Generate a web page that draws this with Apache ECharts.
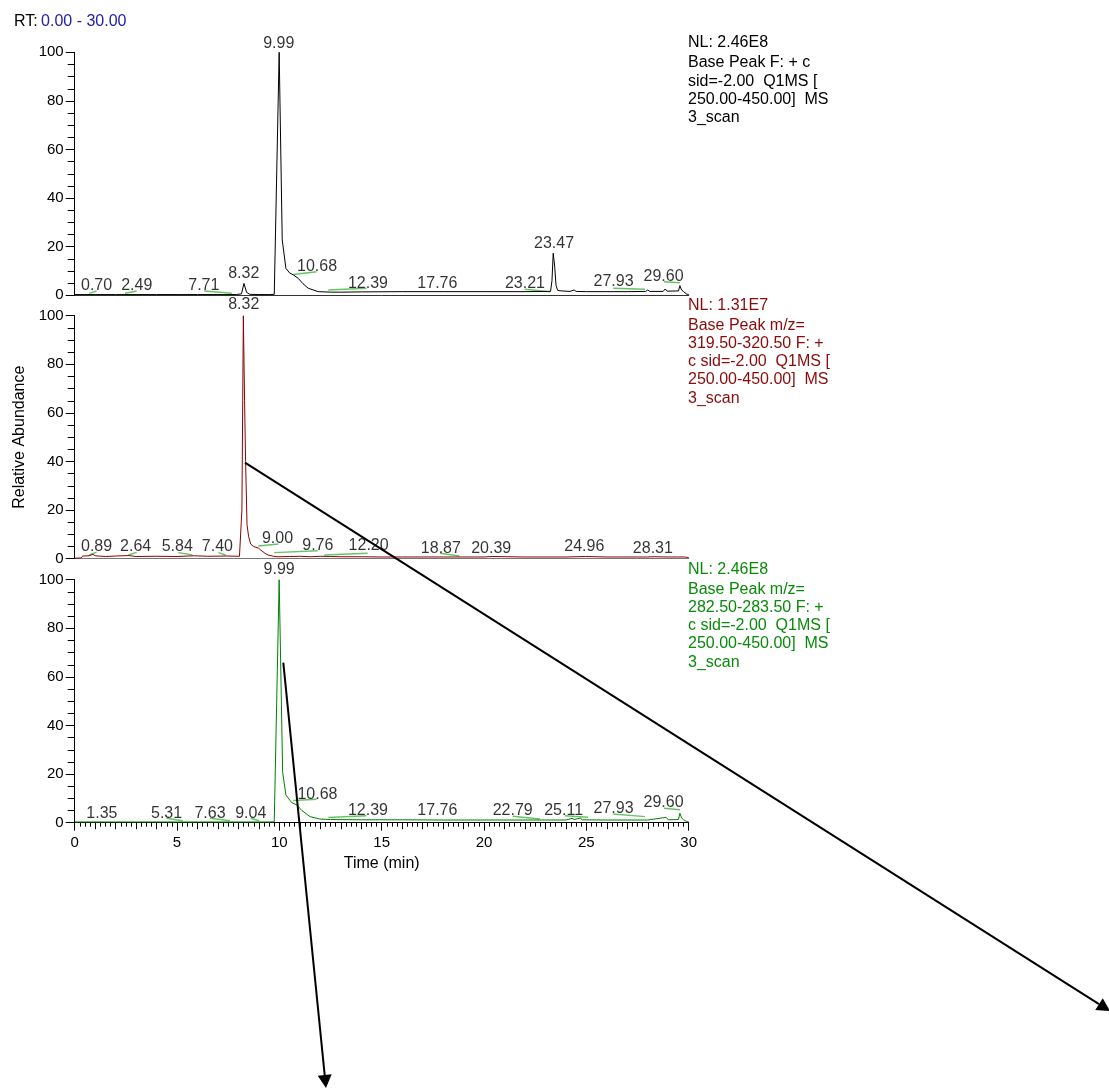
<!DOCTYPE html>
<html>
<head>
<meta charset="utf-8">
<script src="https://cdn.jsdelivr.net/npm/echarts@6/dist/echarts.min.js"></script>
<style>
html,body{margin:0;padding:0;background:#fff;}
#chart{width:1109px;height:1088px;}
</style>
</head>
<body>
<div id="chart"></div>
<script>
// ---------- DATA ----------
// Panel 1: Base Peak (black)
const topTimes  = [0,1,2,3,4,5,6,7,7.9,8.15,8.27,8.4,8.55,9.0,9.5,9.75,9.99,10.14,10.32,10.5,10.68,10.92,11.15,11.41,11.9,12.5,13,14,16,18,20,22,23.1,23.25,23.32,23.38,23.45,23.52,23.6,23.8,24.2,24.4,24.5,25,26,27,27.9,28.0,28.1,28.75,28.85,28.95,29.5,29.57,29.65,29.75,29.9,30];
const topValues = [0.3,0.3,0.3,0.3,0.3,0.3,0.3,0.3,0.3,0.6,4.9,1.2,0.4,0.3,0.3,0.4,100,22.8,11.1,9.2,8.4,7.0,4.8,2.9,1.5,1.3,1.3,1.4,1.5,1.5,1.5,1.5,1.6,1.6,6,17.3,12,4,2,1.8,1.6,2.2,1.6,1.5,1.5,1.5,1.6,2.2,1.6,1.6,2.6,1.7,1.8,4,2.2,1.5,0.5,0.3];
const topLabelText = ['9.99','0.70','2.49','7.71','8.32','10.68','12.39','17.76','23.21','23.47','27.93','29.60'];
const topLabelX    = [9.97,1.07,3.03,6.31,8.26,11.84,14.33,17.72,22.0,23.42,26.33,28.77];
const topLabelY    = [103.7,3.8,3.8,3.8,9.0,11.8,4.9,4.9,4.9,21.1,5.6,7.9];
const topBaselines = [[0.71,0.8,1.07,1.8],[2.46,0.8,3.03,1.8],[6.32,1.8,7.67,0.8],[10.68,8.6,11.82,9.7],[12.39,2.2,14.26,2.9],[21.99,2.5,23.22,1.5],[26.31,2.9,27.86,2.5],[28.79,5.6,29.57,5.2]];

// Panel 2: m/z 319.50-320.50 (dark red)
const midTimes  = [0,0.3,0.4,0.7,0.89,1.0,1.5,2.0,2.64,3.0,4,5,5.84,6.5,7.4,8.05,8.17,8.24,8.3,8.35,8.42,8.5,8.6,8.75,8.97,9.1,9.3,9.46,9.7,9.93,10.5,11,11.5,12,12.5,13,14,15,16,18,20,20.4,22,24,24.96,26,28,28.31,29,29.8,30];
const midValues = [0.2,0.3,1.1,1.2,1.8,1.2,0.9,1.1,1.3,0.9,1.0,0.9,1.2,1.0,1.1,1.0,20,100,65,40,14,9,6,5,4.4,3.5,2.2,1.5,1.0,0.8,0.9,1.0,0.8,1.0,0.9,0.8,0.8,0.7,0.7,0.7,0.7,0.9,0.7,0.7,0.9,0.7,0.7,0.8,0.7,0.7,0.5];
const midLabelText = ['8.32','0.89','2.64','5.84','7.40','9.00','9.76','12.20','18.87','20.39','24.96','28.31'];
const midLabelX    = [8.26,1.07,2.98,5.01,6.97,9.91,11.88,14.36,17.89,20.35,24.9,28.25];
const midLabelY    = [104.4,4.9,4.9,4.9,4.9,8.4,5.2,5.2,4.3,4.3,4.9,4.3];
const midBaselines = [[0.71,1.5,1.07,2.7],[2.62,1.5,3.03,2.6],[5.06,2.5,5.76,1.5],[7.02,2.5,7.38,1.5],[8.97,5.2,9.95,6.0],[9.75,2.5,11.87,3.3],[12.19,1.5,14.31,2.2],[17.85,2.2,18.79,1.1]];

// Panel 3: m/z 282.50-283.50 (green)
const botTimes  = [0,2,4,6,8,9.5,9.75,9.99,10.16,10.32,10.6,10.85,11.1,11.5,11.98,12.5,14,16,18,20,22,24,24.3,24.4,24.5,24.7,24.8,26,28,28.9,29,29.5,29.57,29.65,29.75,29.9,30];
const botValues = [0.3,0.3,0.3,0.3,0.3,0.3,0.4,100,20.8,11.4,8.3,7.3,5.0,2.5,1.5,1.3,1.2,1.2,1.1,1.1,1.1,1.1,1.8,1.3,1.5,1.9,1.2,1.1,1.1,2.2,1.2,1.3,3.9,2.0,1.2,0.5,0.3];
const botLabelText = ['9.99','1.35','5.31','7.63','9.04','10.68','12.39','17.76','22.79','25.11','27.93','29.60'];
const botLabelX    = [9.99,1.33,4.49,6.61,8.6,11.86,14.33,17.72,21.4,23.89,26.33,28.77];
const botLabelY    = [104,3.9,3.9,3.9,3.9,11.7,4.9,4.9,4.9,5.1,5.6,8.2];
const botBaselines = [[4.49,1.8,5.28,0.8],[6.61,1.8,7.59,0.8],[8.6,1.8,9.02,0.8],[10.68,9.1,11.82,9.6],[12.39,2.1,14.26,2.9],[21.4,2.7,22.73,1.5],[23.95,2.9,25.09,2.2],[26.31,3.6,27.86,2.5],[28.79,5.9,29.57,5.3]];

const yTicks = [0,20,40,60,80,100];
const xTicks = [0,5,10,15,20,25,30];

const rtPrefix = 'RT:';
const rtRange = '0.00 - 30.00';
const headers = [
  {nl:'NL: 2.46E8', body:'Base Peak F: + c\nsid=-2.00  Q1MS [\n250.00-450.00]  MS\n3_scan', color:'#000000'},
  {nl:'NL: 1.31E7', body:'Base Peak m/z=\n319.50-320.50 F: +\nc sid=-2.00  Q1MS [\n250.00-450.00]  MS\n3_scan', color:'#8b0a0a'},
  {nl:'NL: 2.46E8', body:'Base Peak m/z=\n282.50-283.50 F: +\nc sid=-2.00  Q1MS [\n250.00-450.00]  MS\n3_scan', color:'#0a8a0a'}
];

// ---------- LAYOUT ----------
const FONT = 'Liberation Sans, Arial, sans-serif';
const TXT = 16;
const GL = 74.7, GW = 614, GH = 243;
const gridTops = [52.3, 315.7, 579.7];
const traceColors = ['#000000', '#8b0000', '#008000'];
const baselineColor = '#66c466';

const zip = (a, b) => a.map((v, i) => [v, b[i]]);

const grids = gridTops.map(t => ({left: GL, top: t, width: GW, height: GH}));

const yAxes = gridTops.map((t, i) => ({
  gridIndex: i, type: 'value', min: 0, max: 100, interval: 20,
  axisLine: {show: true, lineStyle: {color: '#000', width: 1}},
  axisTick: {show: true, length: 9, lineStyle: {color: '#000'}},
  minorTick: {show: true, splitNumber: 4, length: 7, lineStyle: {color: '#000'}},
  splitLine: {show: false},
  axisLabel: {color: '#000', fontSize: 15, fontFamily: FONT, margin: 11},
  name: i === 1 ? 'Relative Abundance' : '',
  nameLocation: 'middle', nameGap: 33,
  nameTextStyle: {color: '#000', fontSize: TXT, fontFamily: FONT}
}));

const xAxes = [
  {gridIndex: 0, type: 'value', min: 0, max: 30, position: 'bottom',
   axisLine: {show: true, lineStyle: {color: '#333', width: 1}}, axisTick: {show: false}, axisLabel: {show: false}, splitLine: {show: false}},
  {gridIndex: 1, type: 'value', min: 0, max: 30, position: 'bottom',
   axisLine: {show: true, lineStyle: {color: '#777', width: 1.2}}, axisTick: {show: false}, axisLabel: {show: false}, splitLine: {show: false}},
  {gridIndex: 2, type: 'value', min: 0, max: 30, interval: 5, position: 'bottom',
   axisLine: {show: true, lineStyle: {color: '#000', width: 1}},
   axisTick: {show: true, length: 8, lineStyle: {color: '#000'}},
   minorTick: {show: true, splitNumber: 20, length: 4, lineStyle: {color: '#000'}},
   splitLine: {show: false},
   axisLabel: {color: '#000', fontSize: 15, fontFamily: FONT, margin: 13},
   name: 'Time (min)', nameLocation: 'middle', nameGap: 33,
   nameTextStyle: {color: '#000', fontSize: TXT, fontFamily: FONT}},
  {gridIndex: 2, type: 'value', min: 0, max: 30, interval: 1, position: 'bottom', offset: 0,
   axisLine: {show: false}, axisTick: {show: true, length: 6.5, lineStyle: {color: '#000'}},
   axisLabel: {show: false}, splitLine: {show: false}}
];

const series = [];
const panels = [
  {t: topTimes, v: topValues, lt: topLabelText, lx: topLabelX, ly: topLabelY, bl: topBaselines},
  {t: midTimes, v: midValues, lt: midLabelText, lx: midLabelX, ly: midLabelY, bl: midBaselines},
  {t: botTimes, v: botValues, lt: botLabelText, lx: botLabelX, ly: botLabelY, bl: botBaselines}
];
panels.forEach((p, i) => {
  series.push({
    type: 'line', xAxisIndex: i, yAxisIndex: i, data: zip(p.t, p.v),
    showSymbol: false, symbol: 'none', silent: true, animation: false,
    lineStyle: {color: traceColors[i], width: 1}, z: 3
  });
  series.push({
    type: 'lines', coordinateSystem: 'cartesian2d', xAxisIndex: i, yAxisIndex: i,
    data: p.bl.map(b => ({coords: [[b[0], b[1]], [b[2], b[3]]]})),
    lineStyle: {color: baselineColor, width: 1.5, opacity: 1}, silent: true, animation: false, z: 2
  });
  series.push({
    type: 'scatter', xAxisIndex: i, yAxisIndex: i, clip: false, silent: true, animation: false,
    symbolSize: 1, itemStyle: {color: 'rgba(0,0,0,0)'},
    data: p.lt.map((txt, k) => ({name: txt, value: [p.lx[k], p.ly[k]]})),
    label: {show: true, position: 'inside', formatter: d => d.name, color: '#000',
            fontSize: TXT, fontFamily: FONT},
    z: 4
  });
});

// header texts
const graphic = [];
graphic.push({
  type: 'text', left: 14, top: 14,
  style: {text: '{a|' + rtPrefix + '} {b|' + rtRange + '}', rich: {
    a: {fill: '#000', fontSize: TXT, fontFamily: FONT},
    b: {fill: '#2020a8', fontSize: TXT, fontFamily: FONT}}}
});
const nlOffsets = [-18.5, -19.5, -19.5];
headers.forEach((h, i) => {
  const nlTop = gridTops[i] + nlOffsets[i];
  graphic.push({type: 'text', x: 688, y: nlTop,
    style: {text: h.nl, fill: h.color, fontSize: TXT, fontFamily: FONT, lineHeight: 18, verticalAlign: 'top'}});
  graphic.push({type: 'text', x: 688, y: nlTop + 20,
    style: {text: h.body, fill: h.color, fontSize: TXT, fontFamily: FONT, lineHeight: 18.2, verticalAlign: 'top'}});
});

// annotation arrows (pixel space)
const arrows = [
  {from: [245, 462.7], to: [1110, 1011]},
  {from: [283.3, 662.7], to: [326, 1088]}
];
arrows.forEach(a => {
  const dx = a.to[0] - a.from[0], dy = a.to[1] - a.from[1];
  const L = Math.hypot(dx, dy), ux = dx / L, uy = dy / L;
  const hl = 13, hw = 7;
  const bx = a.to[0] - ux * hl, by = a.to[1] - uy * hl;
  graphic.push({type: 'line', shape: {x1: a.from[0], y1: a.from[1], x2: bx, y2: by},
    style: {stroke: '#000', lineWidth: 2}, z: 10});
  graphic.push({type: 'polygon', shape: {points: [a.to, [bx - uy * hw, by + ux * hw], [bx + uy * hw, by - ux * hw]]},
    style: {fill: '#000'}, z: 10});
});

const chart = echarts.init(document.getElementById('chart'), null, {renderer: 'canvas'});
chart.setOption({
  animation: false,
  backgroundColor: '#fff',
  grid: grids, xAxis: xAxes, yAxis: yAxes, series: series, graphic: graphic
});
</script>
</body>
</html>
